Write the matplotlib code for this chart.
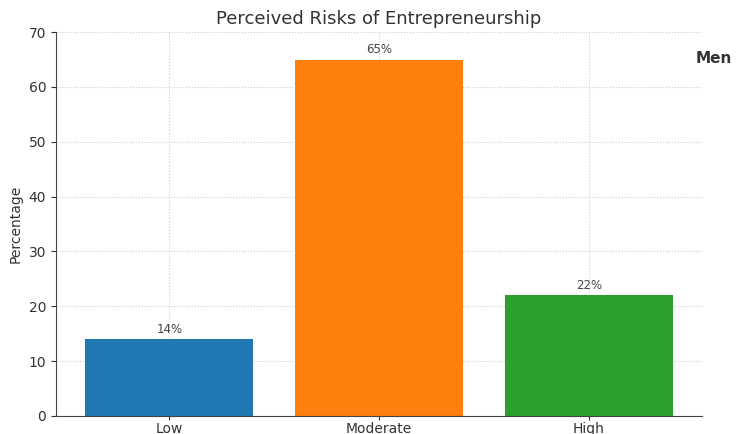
import matplotlib
matplotlib.use("Agg")
import matplotlib.pyplot as plt

categories = ["Low", "Moderate", "High"]
values = [14, 65, 22]
colors = ["#1f77b4", "#ff7f0e", "#2ca02c"]

fig = plt.figure(figsize=(7.37, 4.34), dpi=100)
ax = fig.add_axes([0.076, 0.0415, 0.8765, 0.8845])

bars = ax.bar(categories, values, color=colors, width=0.8, zorder=2)
for b, v in zip(bars, values):
    ax.text(b.get_x() + b.get_width() / 2, v + 0.6, f"{v}%", ha="center", va="bottom",
            fontsize=8.5, color="#444444")

ax.set_ylim(0, 70)
ax.set_title("Perceived Risks of Entrepreneurship", fontsize=13, color="#333333", pad=6)
ax.set_ylabel("Percentage", fontsize=10, color="#333333", labelpad=4)
ax.grid(True, linestyle=":", color="#cccccc", linewidth=0.8, zorder=0)
ax.spines["top"].set_visible(False)
ax.spines["right"].set_visible(False)
for s in ["left", "bottom"]:
    ax.spines[s].set_color("#444444")
ax.tick_params(colors="#333333", labelsize=10)
ax.tick_params(axis="x", pad=1, length=3)

fig.text(0.944, 0.866, "Men", fontsize=11, fontweight="bold", color="#333333", va="center")

fig.savefig("out.png", dpi=100)
